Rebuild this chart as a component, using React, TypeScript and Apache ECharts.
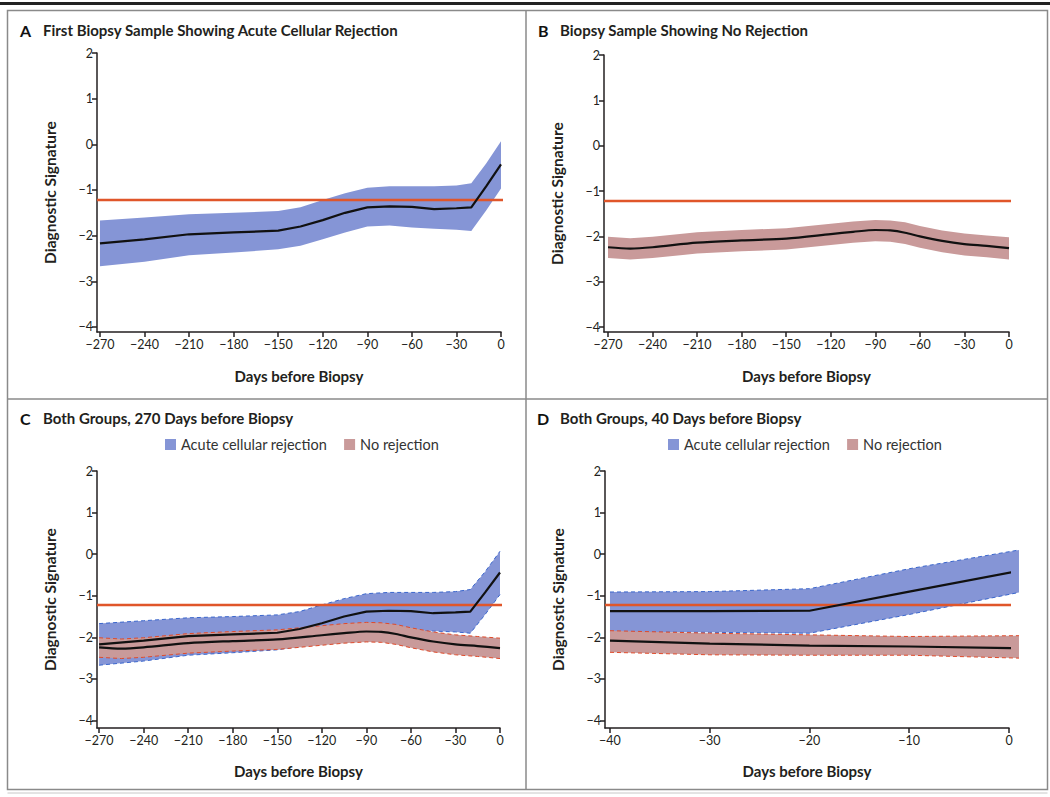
import React, { useEffect, useRef } from "react";
import * as echarts from "echarts";

// ---------- Data ----------
const threshold = -1.22;

// Panel A / C: acute cellular rejection (270-day window)
const acrDays = [-270, -240, -210, -180, -150, -135, -120, -105, -90, -75, -60, -45, -30, -20, -10, 0];
const acrMean = [-2.17, -2.08, -1.97, -1.93, -1.89, -1.8, -1.66, -1.5, -1.38, -1.36, -1.37, -1.42, -1.4, -1.38, -0.92, -0.44];
const acrUpper = [-1.67, -1.6, -1.53, -1.5, -1.46, -1.38, -1.22, -1.07, -0.95, -0.92, -0.92, -0.92, -0.9, -0.85, -0.42, 0.07];
const acrLower = [-2.67, -2.57, -2.43, -2.37, -2.3, -2.22, -2.08, -1.93, -1.8, -1.78, -1.82, -1.85, -1.87, -1.9, -1.45, -0.97];

// Panel B / C: no rejection (270-day window)
const nrDays = [-270, -255, -240, -210, -180, -150, -120, -105, -90, -80, -70, -60, -45, -30, -15, 0];
const nrMean = [-2.24, -2.27, -2.24, -2.14, -2.09, -2.05, -1.95, -1.9, -1.86, -1.87, -1.92, -2.0, -2.1, -2.17, -2.21, -2.26];
const nrUpper = [-2.01, -2.04, -2.01, -1.91, -1.86, -1.82, -1.72, -1.67, -1.64, -1.65, -1.69, -1.77, -1.87, -1.94, -1.98, -2.02];
const nrLower = [-2.48, -2.51, -2.48, -2.38, -2.33, -2.29, -2.19, -2.14, -2.11, -2.12, -2.17, -2.25, -2.35, -2.42, -2.46, -2.51];

// Panel D: 40-day window
const acrDaysD = [-40, -30, -20, -10, 1];
const acrMeanD = [-1.37, -1.37, -1.36, -0.9, -0.4];
const acrUpperD = [-0.91, -0.9, -0.83, -0.35, 0.1];
const acrLowerD = [-1.87, -1.88, -1.9, -1.45, -0.92];

const nrDaysD = [-40, -30, -20, -10, 1];
const nrMeanD = [-2.08, -2.15, -2.2, -2.22, -2.26];
const nrUpperD = [-1.84, -1.9, -1.94, -1.98, -1.96];
const nrLowerD = [-2.36, -2.42, -2.43, -2.43, -2.5];

// Tick labels
const xTicks270 = [-270, -240, -210, -180, -150, -120, -90, -60, -30, 0];
const xTicks40 = [-40, -30, -20, -10, 0];
const yTicks = [-4, -3, -2, -1, 0, 1, 2];

const legendNames = ["Acute cellular rejection", "No rejection"];
const panelTitles = [
  { letter: "A", text: "First Biopsy Sample Showing Acute Cellular Rejection" },
  { letter: "B", text: "Biopsy Sample Showing No Rejection" },
  { letter: "C", text: "Both Groups, 270 Days before Biopsy" },
  { letter: "D", text: "Both Groups, 40 Days before Biopsy" },
];

// ---------- Styles ----------
const FONT = "Lato";
const INK = "#231f20";
const BLUE = "#8595d6";
const PINK = "#c99a9a";
const RED = "#e0562a";
const BLUE_EDGE = "#3a66cc";
const RED_EDGE = "#e04a2a";

const fmt = (v: number) => (v < 0 ? "\u2212" + Math.abs(v) : String(v));

function xAxis(gi: number, min: number, ticks: number[], nameGap: number) {
  return {
    type: "value",
    gridIndex: gi,
    min,
    max: 0,
    axisLine: { show: true, onZero: false, lineStyle: { color: INK, width: 1.5 } },
    axisTick: { show: true, length: 5, customValues: ticks, lineStyle: { color: INK, width: 1.5 } },
    axisLabel: { customValues: ticks, formatter: fmt, color: INK, fontFamily: FONT, fontSize: 12.5, margin: 6 },
    splitLine: { show: false },
    name: "Days before Biopsy",
    nameLocation: "middle",
    nameGap,
    nameTextStyle: { fontFamily: FONT, fontWeight: "bold", fontSize: 15, color: INK },
  };
}

function yAxis(gi: number, min: number) {
  return {
    type: "value",
    gridIndex: gi,
    min,
    max: 2,
    axisLine: { show: true, onZero: false, lineStyle: { color: INK, width: 1.5 } },
    axisTick: { show: true, length: 5, customValues: yTicks, lineStyle: { color: INK, width: 1.5 } },
    axisLabel: { customValues: yTicks, formatter: fmt, color: INK, fontFamily: FONT, fontSize: 12.5, margin: 4 },
    splitLine: { show: false },
    name: "Diagnostic Signature",
    nameLocation: "middle",
    nameGap: 39.5,
    nameRotate: 90,
    nameTextStyle: { fontFamily: FONT, fontWeight: "bold", fontSize: 15.5, color: INK },
  };
}

// Confidence band drawn as one polygon through the axis scales (api.coord)
function band(
  gi: number,
  name: string,
  days: number[],
  lower: number[],
  upper: number[],
  color: string,
  edge: string | null
) {
  return {
    type: "custom",
    name,
    xAxisIndex: gi,
    yAxisIndex: gi,
    data: days.map((d, i) => [d, lower[i], upper[i]]),
    encode: { x: 0, y: [1, 2] },
    itemStyle: { color },
    silent: true,
    clip: false,
    z: 2,
    renderItem: (params: any, api: any) => {
      if (params.dataIndex !== 0) return null;
      const up = days.map((d, i) => api.coord([d, upper[i]]));
      const lo = days.map((d, i) => api.coord([d, lower[i]]));
      const children: any[] = [
        {
          type: "polygon",
          shape: { points: up.concat(lo.slice().reverse()) },
          style: { fill: color, stroke: null },
        },
      ];
      if (edge) {
        [up, lo].forEach((pts) =>
          children.push({
            type: "polyline",
            shape: { points: pts },
            style: { fill: null, stroke: edge, lineWidth: 1, lineDash: [4, 3] },
          })
        );
      }
      return { type: "group", children };
    },
  };
}

function meanLine(gi: number, name: string, days: number[], mean: number[], smooth: number | boolean) {
  return {
    type: "line",
    name,
    xAxisIndex: gi,
    yAxisIndex: gi,
    data: days.map((d, i) => [d, mean[i]]),
    symbol: "none",
    smooth,
    lineStyle: { color: "#111", width: 2.2 },
    z: 4,
    silent: true,
    clip: false,
  };
}

function thresholdLine(gi: number, from: number, to: number) {
  return {
    type: "line",
    name: "Threshold",
    xAxisIndex: gi,
    yAxisIndex: gi,
    data: [
      [from, threshold],
      [to, threshold],
    ],
    symbol: "none",
    lineStyle: { color: RED, width: 2.5 },
    z: 3,
    silent: true,
    clip: false,
  };
}

export default function App() {
  const ref = useRef<HTMLDivElement>(null);

  useEffect(() => {
    document.body.style.margin = "0";
    if (!ref.current) return;
    const chart = echarts.init(ref.current, undefined, { renderer: "svg" });

    const titleGraphics: any[] = [];
    const titlePos = [
      { x: 20, tx: 43, y: 30 },
      { x: 538, tx: 560, y: 30 },
      { x: 20, tx: 43, y: 418 },
      { x: 537, tx: 560, y: 418 },
    ];
    panelTitles.forEach((t, i) => {
      const p = titlePos[i];
      titleGraphics.push({
        type: "text",
        x: p.x,
        y: p.y,
        style: { text: t.letter, fontFamily: FONT, fontWeight: "bold", fontSize: 16, fill: "#111", verticalAlign: "middle" },
      });
      titleGraphics.push({
        type: "text",
        x: p.tx,
        y: p.y,
        style: { text: t.text, fontFamily: FONT, fontWeight: "bold", fontSize: 15, fill: INK, verticalAlign: "middle" },
      });
    });

    const legendBase = {
      orient: "horizontal",
      top: 437,
      padding: 0,
      icon: "rect",
      itemWidth: 11,
      itemHeight: 11,
      itemGap: 17,
      selectedMode: false,
      textStyle: { fontFamily: FONT, fontSize: 14.5, color: "#333" },
      data: [
        { name: legendNames[0], itemStyle: { color: BLUE } },
        { name: legendNames[1], itemStyle: { color: PINK } },
      ],
    };

    const option: any = {
      animation: false,
      backgroundColor: "#fff",
      grid: [
        { left: 97, top: 53, width: 404, height: 279 },
        { left: 604, top: 55, width: 405, height: 277 },
        { left: 97, top: 471, width: 403, height: 257 },
        { left: 605, top: 471, width: 404, height: 257 },
      ],
      xAxis: [
        xAxis(0, -272, xTicks270, 36),
        xAxis(1, -272.7, xTicks270, 36),
        xAxis(2, -271.4, xTicks270, 35),
        xAxis(3, -40.5, xTicks40, 35),
      ],
      yAxis: [yAxis(0, -4.11), yAxis(1, -4.11), yAxis(2, -4.18), yAxis(3, -4.18)],
      legend: [
        { ...legendBase, left: 165 },
        { ...legendBase, left: 668 },
      ],
      graphic: [
        { type: "rect", shape: { x: 0, y: 2, width: 1050, height: 3 }, style: { fill: "#222" }, silent: true },
        {
          type: "rect",
          shape: { x: 7.5, y: 10.5, width: 1040, height: 779 },
          style: { fill: "none", stroke: "#8a8a8a", lineWidth: 1.5 },
          silent: true,
        },
        { type: "line", shape: { x1: 526, y1: 10.5, x2: 526, y2: 789.5 }, style: { stroke: "#8a8a8a", lineWidth: 1.5 }, silent: true },
        { type: "line", shape: { x1: 7.5, y1: 399, x2: 1047.5, y2: 399 }, style: { stroke: "#8a8a8a", lineWidth: 1.5 }, silent: true },
        { type: "line", shape: { x1: 7.5, y1: 793, x2: 1047.5, y2: 793 }, style: { stroke: "#c8c8c8", lineWidth: 1 }, silent: true },
        ...titleGraphics,
      ],
      series: [
        // Panel A
        band(0, legendNames[0], acrDays, acrLower, acrUpper, BLUE, null),
        meanLine(0, "ACR mean A", acrDays, acrMean, false),
        thresholdLine(0, -272, 5),
        // Panel B
        band(1, legendNames[1], nrDays, nrLower, nrUpper, PINK, null),
        meanLine(1, "NR mean B", nrDays, nrMean, 0.3),
        thresholdLine(1, -272.7, 4),
        // Panel C
        band(2, legendNames[0], acrDays, acrLower, acrUpper, BLUE, BLUE_EDGE),
        band(2, legendNames[1], nrDays, nrLower, nrUpper, PINK, RED_EDGE),
        meanLine(2, "ACR mean C", acrDays, acrMean, false),
        meanLine(2, "NR mean C", nrDays, nrMean, 0.3),
        thresholdLine(2, -271.4, 5),
        // Panel D
        band(3, legendNames[0], acrDaysD, acrLowerD, acrUpperD, BLUE, BLUE_EDGE),
        band(3, legendNames[1], nrDaysD, nrLowerD, nrUpperD, PINK, RED_EDGE),
        meanLine(3, "ACR mean D", acrDaysD, acrMeanD, false),
        meanLine(3, "NR mean D", nrDaysD, nrMeanD, false),
        thresholdLine(3, -40.5, 1.4),
      ],
    };

    chart.setOption(option);
    return () => chart.dispose();
  }, []);

  return <div ref={ref} style={{ width: 1050, height: 797 }} />;
}
